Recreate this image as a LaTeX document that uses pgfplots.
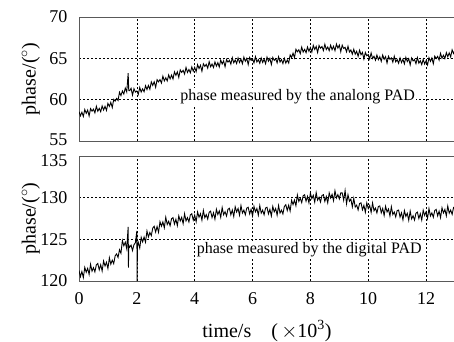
\documentclass[border=0pt]{standalone}
\usepackage{pgfplots}
\pgfplotsset{compat=1.18}
\usepackage{fontspec}
\setmainfont{Liberation Serif}

\begin{document}
\begin{tikzpicture}
\path[use as bounding box] (0pt,0pt) rectangle (454pt,341pt);
\pgfplotsset{
  myax/.style={
    scale only axis, width=376pt, anchor=south west,
    xmin=0, xmax=13,
    xtick={0,2,...,12},
    grid=major,
    major grid style={black, line width=0.6pt, dash pattern=on 2pt off 2pt},
    axis line style={black!65, line width=0.9pt},
    major tick length=0pt,
    /pgf/number format/assume math mode=true,
    tick label style={font=\fontsize{18}{18}\selectfont},
    label style={font=\fontsize{20}{20}\selectfont},
    ylabel style={at={(axis description cs:-0.128,0.5)}, anchor=center},
    yticklabel style={xshift=-8pt},
    xticklabel style={yshift=-8pt},
    xlabel style={yshift=-9pt},
    clip=true,
  }
}
\begin{axis}[myax, at={(79pt,200pt)}, height=124pt,
  ymin=55, ymax=70, ytick={55,60,65,70},
  yticklabels={\raisebox{-4pt}[0pt][0pt]{55},60,65,70}, xticklabels={},
  ylabel={phase/($^{\circ}$)}]
\addplot[black, line width=0.9pt] coordinates {
(0,58.55)(0.05,58.04)(0.10,58.48)(0.15,57.97)(0.20,58.81)(0.25,58.35)(0.30,58.74)(0.35,58.03)(0.40,58.92)(0.45,58.61)
(0.50,58.85)(0.55,58.40)(0.60,59.20)(0.65,58.60)(0.70,58.95)(0.75,58.55)(0.80,59.25)(0.85,58.75)(0.90,59.20)(0.95,58.70)
(1.00,59.55)(1.05,59.18)(1.10,59.67)(1.15,59.05)(1.20,60.03)(1.25,59.82)(1.30,60.15)(1.35,59.90)(1.40,60.90)(1.45,60.50)
(1.50,61.05)(1.55,60.68)(1.60,61.40)(1.65,60.93)(1.70,63.20)(1.72,61.10)(1.75,61.08)(1.80,61.37)(1.85,60.55)(1.90,61.33)(1.95,60.92)
(2.00,61.05)(2.05,60.64)(2.10,61.48)(2.15,60.92)(2.20,61.31)(2.25,60.95)(2.30,61.69)(2.35,61.23)(2.40,61.72)(2.45,61.26)
(2.50,62.15)(2.55,61.73)(2.60,62.16)(2.65,61.49)(2.70,62.42)(2.75,62.15)(2.80,62.43)(2.85,62.01)(2.90,62.84)(2.95,62.27)
(3.00,62.65)(3.05,62.27)(3.10,62.99)(3.15,62.51)(3.20,62.98)(3.25,62.50)(3.30,63.37)(3.35,62.94)(3.40,63.36)(3.45,62.68)
(3.50,63.60)(3.55,63.30)(3.60,63.55)(3.65,63.10)(3.70,63.90)(3.75,63.30)(3.80,63.65)(3.85,63.25)(3.90,63.95)(3.95,63.45)
(4.00,63.90)(4.05,63.39)(4.10,64.23)(4.15,63.77)(4.20,64.16)(4.25,63.45)(4.30,64.34)(4.35,64.03)(4.40,64.27)(4.45,63.81)
(4.50,64.60)(4.55,63.98)(4.60,64.31)(4.65,63.89)(4.70,64.57)(4.75,64.05)(4.80,64.48)(4.85,63.96)(4.90,64.79)(4.95,64.32)
(5.00,64.70)(5.05,63.98)(5.10,64.86)(5.15,64.54)(5.20,64.77)(5.25,64.30)(5.30,65.08)(5.35,64.46)(5.40,64.79)(5.45,64.37)
(5.50,65.05)(5.55,64.50)(5.60,64.90)(5.65,64.35)(5.70,65.15)(5.75,64.65)(5.80,65.00)(5.85,64.25)(5.90,65.10)(5.95,64.75)
(6.00,64.95)(6.05,64.45)(6.10,65.20)(6.15,64.55)(6.20,64.85)(6.25,64.40)(6.30,65.05)(6.35,64.50)(6.40,64.90)(6.45,64.35)
(6.50,65.15)(6.55,64.65)(6.60,65.00)(6.65,64.25)(6.70,65.10)(6.75,64.75)(6.80,64.95)(6.85,64.45)(6.90,65.20)(6.95,64.55)
(7.00,64.85)(7.05,64.37)(7.10,65.00)(7.15,64.42)(7.20,64.80)(7.25,64.43)(7.30,65.42)(7.35,65.10)(7.40,65.63)(7.45,65.07)
(7.50,66.10)(7.55,65.79)(7.60,66.03)(7.65,65.57)(7.70,66.36)(7.75,65.75)(7.80,66.09)(7.85,65.68)(7.90,66.37)(7.95,65.86)
(8.00,66.30)(8.05,65.76)(8.10,66.57)(8.15,66.08)(8.20,66.44)(8.25,65.70)(8.30,66.56)(8.35,66.22)(8.40,66.43)(8.45,65.94)
(8.50,66.70)(8.55,66.06)(8.60,66.37)(8.65,65.93)(8.70,66.59)(8.75,66.05)(8.80,66.46)(8.85,65.92)(8.90,66.73)(8.95,66.24)
(9.00,66.60)(9.05,65.80)(9.10,66.59)(9.15,66.19)(9.20,66.33)(9.25,65.78)(9.30,66.47)(9.35,65.77)(9.40,66.01)(9.45,65.51)
(9.50,66.10)(9.55,65.50)(9.60,65.84)(9.65,65.24)(9.70,65.98)(9.75,65.43)(9.80,65.72)(9.85,64.92)(9.90,65.71)(9.95,65.31)
(10.00,65.45)(10.05,64.93)(10.10,65.65)(10.15,64.98)(10.20,65.25)(10.25,64.78)(10.30,65.40)(10.35,64.83)(10.40,65.20)(10.45,64.63)
(10.50,65.40)(10.55,64.88)(10.60,65.20)(10.65,64.43)(10.70,65.25)(10.75,64.88)(10.80,65.05)(10.85,64.53)(10.90,65.25)(10.95,64.58)
(11.00,64.85)(11.05,64.40)(11.10,65.04)(11.15,64.49)(11.20,64.88)(11.25,64.33)(11.30,65.12)(11.35,64.62)(11.40,64.96)(11.45,64.21)
(11.50,65.05)(11.55,64.69)(11.60,64.87)(11.65,64.35)(11.70,65.09)(11.75,64.42)(11.80,64.71)(11.85,64.24)(11.90,64.88)(11.95,64.31)
(12.00,64.70)(12.05,64.21)(12.10,65.07)(12.15,64.63)(12.20,65.04)(12.25,64.35)(12.30,65.26)(12.35,64.97)(12.40,65.23)(12.45,64.79)
(12.50,65.60)(12.55,65.01)(12.60,65.37)(12.65,64.98)(12.70,65.69)(12.75,65.20)(12.80,65.66)(12.85,65.17)(12.90,66.03)(12.95,65.59)
(13.00,66.00)
};
\node[fill=white, inner sep=1.5pt, font=\fontsize{16}{16}\selectfont] at (axis cs:7.56,60.4) {phase measured by the analong PAD};
\end{axis}

\begin{axis}[myax, at={(79pt,60pt)}, height=125pt,
  ymin=120, ymax=135, ytick={120,125,130,135},
  yticklabels={120,125,130,\raisebox{-10pt}[0pt][0pt]{135}},
  ylabel={phase/($^{\circ}$)},
  xlabel={time/s\quad(\,$\times$10\textsuperscript{3})}]
\addplot[black, line width=0.9pt] coordinates {
(0,121.25)(0.05,120.52)(0.10,121.14)(0.15,120.41)(0.20,121.63)(0.25,121.05)(0.30,121.52)(0.35,120.79)(0.40,122.01)(0.45,121.18)
(0.50,121.60)(0.55,121.10)(0.60,121.95)(0.65,122.10)(0.70,121.35)(0.75,121.95)(0.80,121.20)(0.85,122.40)(0.90,121.80)(0.95,122.25)
(1.00,121.50)(1.05,122.78)(1.10,122.02)(1.15,122.50)(1.20,122.08)(1.25,123.02)(1.30,123.25)(1.35,122.83)(1.40,123.75)(1.45,123.33)
(1.50,124.85)(1.55,124.23)(1.60,124.65)(1.65,123.88)(1.70,126.50)(1.71,121.60)(1.72,124.30)(1.75,124.05)(1.80,124.30)(1.85,123.65)(1.90,124.35)(1.95,124.60)
(2.00,126.00)(2.01,120.00)(2.02,124.20)(2.05,124.63)(2.10,123.95)(2.15,125.23)(2.20,124.70)(2.25,125.28)(2.30,124.67)(2.35,126.00)(2.40,125.28)(2.45,125.82)
(2.50,125.45)(2.55,126.36)(2.60,126.57)(2.65,125.88)(2.70,126.54)(2.75,125.85)(2.80,127.11)(2.85,126.57)(2.90,127.08)(2.95,126.39)
(3.00,127.65)(3.05,126.78)(3.10,127.16)(3.15,126.64)(3.20,127.47)(3.25,127.60)(3.30,126.83)(3.35,127.41)(3.40,126.64)(3.45,127.82)
(3.50,127.20)(3.55,127.64)(3.60,126.88)(3.65,128.07)(3.70,127.21)(3.75,127.60)(3.80,127.09)(3.85,127.93)(3.90,128.07)(3.95,127.31)
(4.00,127.90)(4.05,127.12)(4.10,128.29)(4.15,127.66)(4.20,128.08)(4.25,127.30)(4.30,128.47)(4.35,127.59)(4.40,127.96)(4.45,127.43)
(4.50,128.25)(4.55,128.38)(4.60,127.61)(4.65,128.19)(4.70,127.42)(4.75,128.60)(4.80,127.98)(4.85,128.41)(4.90,127.64)(4.95,128.82)
(5.00,127.95)(5.05,128.32)(5.10,127.79)(5.15,128.61)(5.20,128.73)(5.25,127.95)(5.30,128.52)(5.35,127.74)(5.40,128.91)(5.45,128.28)
(5.50,128.70)(5.55,127.90)(5.60,129.05)(5.65,128.15)(5.70,128.50)(5.75,127.95)(5.80,128.75)(5.85,128.85)(5.90,128.05)(5.95,128.60)
(6.00,127.80)(6.05,128.95)(6.10,128.30)(6.15,128.70)(6.20,127.90)(6.25,129.05)(6.30,128.15)(6.35,128.50)(6.40,127.95)(6.45,128.75)
(6.50,128.85)(6.55,128.05)(6.60,128.60)(6.65,127.80)(6.70,128.95)(6.75,128.30)(6.80,128.70)(6.85,127.90)(6.90,129.05)(6.95,128.15)
(7.00,128.50)(7.05,128.05)(7.10,128.95)(7.15,129.15)(7.20,128.45)(7.25,129.10)(7.30,128.40)(7.35,129.68)(7.40,129.17)(7.45,129.70)
(7.50,129.03)(7.55,130.32)(7.60,129.55)(7.65,129.93)(7.70,129.40)(7.75,130.23)(7.80,130.35)(7.85,129.58)(7.90,130.15)(7.95,129.38)
(8.00,130.55)(8.05,129.89)(8.10,130.28)(8.15,129.47)(8.20,130.61)(8.25,129.70)(8.30,130.04)(8.35,129.48)(8.40,130.27)(8.45,130.36)
(8.50,129.55)(8.55,130.14)(8.60,129.38)(8.65,130.57)(8.70,129.96)(8.75,130.40)(8.80,129.64)(8.85,130.83)(8.90,129.97)(8.95,130.36)
(9.00,129.85)(9.05,130.57)(9.10,130.58)(9.15,129.70)(9.20,130.85)(9.25,129.28)(9.30,130.35)(9.35,129.57)(9.40,129.83)(9.45,128.90)
(9.50,129.92)(9.55,128.88)(9.60,129.10)(9.65,128.53)(9.70,129.30)(9.75,129.38)(9.80,128.55)(9.85,129.08)(9.90,128.25)(9.95,129.38)
(10.00,128.70)(10.05,129.07)(10.10,128.24)(10.15,129.36)(10.20,128.43)(10.25,128.75)(10.30,128.17)(10.35,128.94)(10.40,129.01)(10.45,128.18)
(10.50,128.70)(10.55,127.86)(10.60,128.97)(10.65,128.28)(10.70,128.64)(10.75,127.80)(10.80,128.91)(10.85,127.97)(10.90,128.28)(10.95,127.69)
(11.00,128.45)(11.05,128.51)(11.10,127.67)(11.15,128.18)(11.20,127.34)(11.25,128.45)(11.30,127.76)(11.35,128.12)(11.40,127.28)(11.45,128.39)
(11.50,127.45)(11.55,127.83)(11.60,127.31)(11.65,128.14)(11.70,128.27)(11.75,127.50)(11.80,128.08)(11.85,127.31)(11.90,128.49)(11.95,127.87)
(12.00,128.30)(12.05,127.52)(12.10,128.69)(12.15,127.81)(12.20,128.18)(12.25,127.65)(12.30,128.47)(12.35,128.59)(12.40,127.81)(12.45,128.38)
(12.50,127.60)(12.55,128.78)(12.60,128.16)(12.65,128.59)(12.70,127.82)(12.75,129.00)(12.80,128.13)(12.85,128.51)(12.90,127.99)(12.95,128.82)
(13.00,128.95)
};
\node[fill=white, inner sep=1.5pt, font=\fontsize{16}{16}\selectfont] at (axis cs:7.96,123.7) {phase measured by the digital PAD};
\end{axis}
\end{tikzpicture}
\end{document}
